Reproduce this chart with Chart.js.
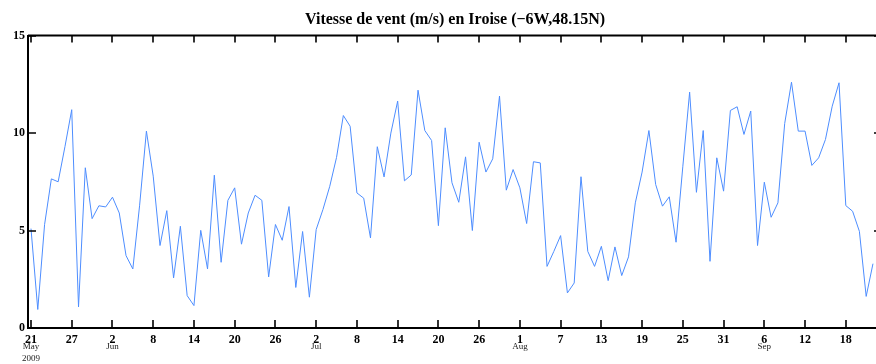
<!DOCTYPE html>
<html><head><meta charset="utf-8">
<script src="https://cdn.jsdelivr.net/npm/chart.js@4/dist/chart.umd.min.js"></script>
<style>
html,body{margin:0;padding:0;background:#fff;overflow:hidden;}
#wrap{width:876px;height:364px;overflow:hidden;position:relative;background:#fff;}
#c{display:block;width:884px;height:364px;}
</style></head><body>
<div id="wrap"><canvas id="c" width="884" height="364"></canvas></div>
<script>
// Daily wind speed (m/s), one value per day starting 21 May 2009
const windSpeed = [
  5.1, 0.95, 5.3, 7.65, 7.5, 9.3, 11.2, 1.08, 8.22, 5.61,
  6.27, 6.21, 6.71, 5.9, 3.71, 3.03, 6.3, 10.1, 7.79, 4.23,
  6.02, 2.57, 5.22, 1.66, 1.15, 5.01, 3.03, 7.84, 3.37, 6.55,
  7.19, 4.3, 5.9, 6.81, 6.55, 2.62, 5.31, 4.5, 6.23, 2.08,
  4.95, 1.58, 5.05, 6.08, 7.27, 8.75, 10.9, 10.35, 6.93, 6.66,
  4.62, 9.3, 7.75, 10.0, 11.64, 7.55, 7.85, 12.2, 10.13, 9.62,
  5.25, 10.27, 7.45, 6.45, 8.78, 5.0, 9.53, 8.0, 8.68, 11.9,
  7.07, 8.13, 7.19, 5.36, 8.53, 8.47, 3.16, 3.93, 4.74, 1.8,
  2.31, 7.76, 3.93, 3.16, 4.19, 2.43, 4.16, 2.69, 3.65, 6.42,
  8.0, 10.13, 7.36, 6.25, 6.73, 4.4, 8.3, 12.1, 6.96, 10.13,
  3.42, 8.73, 7.02, 11.16, 11.35, 9.93, 11.13, 4.23, 7.48, 5.68,
  6.42, 10.49, 12.61, 10.1, 10.1, 8.34, 8.73, 9.67, 11.38, 12.58,
  6.28, 5.99, 4.96, 1.62, 3.3
];
// x tick positions (days since 21 May 2009) and their labels
const xTickDays   = [0, 6, 12, 18, 24, 30, 36, 42, 48, 54, 60, 66, 72, 78, 84, 90, 96, 102, 108, 114, 120];
const xTickLabels = ['21','27','2','8','14','20','26','2','8','14','20','26','1','7','13','19','25','31','6','12','18'];
const monthTickDays = [0, 12, 42, 72, 108];
const monthNames    = ['May', 'Jun', 'Jul', 'Aug', 'Sep'];
const yearTickDays  = [0];
const yearLabels    = ['2009'];
const yTicks = [0, 5, 10, 15];
const titleText = 'Vitesse de vent (m/s) en Iroise (\u22126W,48.15N)';

const SERIF = '"Liberation Serif", "Times New Roman", serif';

const framePlugin = {
  id: 'frame',
  afterDraw(chart) {
    const {ctx, chartArea, scales} = chart;
    const {left, right, top, bottom} = chartArea;
    const x = scales.x, y = scales.y;
    ctx.save();
    ctx.strokeStyle = '#000';
    ctx.lineWidth = 2;
    ctx.beginPath();
    ctx.moveTo(left, top); ctx.lineTo(right, top); ctx.lineTo(right, bottom);
    ctx.stroke();
    ctx.lineWidth = 1.6;
    ctx.beginPath();
    xTickDays.forEach(d => {
      const px = Math.round(x.getPixelForValue(d));
      ctx.moveTo(px, bottom); ctx.lineTo(px, bottom - 8);
      ctx.moveTo(px, top); ctx.lineTo(px, top + 7);
    });
    yTicks.forEach(v => {
      const py = Math.round(y.getPixelForValue(v));
      ctx.moveTo(left, py); ctx.lineTo(left + 8, py);
      ctx.moveTo(right, py); ctx.lineTo(right - 8, py);
    });
    ctx.stroke();
    ctx.fillStyle = '#222';
    ctx.font = '9px ' + SERIF;
    ctx.textAlign = 'center';
    ctx.textBaseline = 'middle';
    monthTickDays.forEach((d, i) => ctx.fillText(monthNames[i], x.getPixelForValue(d), bottom + 18.5));
    yearTickDays.forEach((d, i) => ctx.fillText(yearLabels[i], x.getPixelForValue(d), bottom + 31));
    ctx.restore();
  }
};

new Chart(document.getElementById('c'), {
  type: 'line',
  data: {
    datasets: [{
      label: 'Vitesse de vent',
      data: windSpeed.map((v, i) => ({x: i, y: v})),
      borderColor: '#4d8dff',
      borderWidth: 1,
      pointRadius: 0,
      tension: 0,
      fill: false
    }]
  },
  options: {
    responsive: false,
    animation: false,
    devicePixelRatio: 1,
    layout: {padding: {left: 0, right: 2, top: 0, bottom: 0}},
    plugins: {
      legend: {display: false},
      tooltip: {enabled: false},
      title: {
        display: true,
        text: titleText,
        fullSize: false,
        color: '#000',
        font: {family: SERIF, size: 16, weight: 'bold', lineHeight: 1.2},
        padding: {top: 10, bottom: 6.4}
      }
    },
    scales: {
      x: {
        type: 'linear',
        min: -0.44,
        max: 125.33,
        afterBuildTicks: s => { s.ticks = xTickDays.map(v => ({value: v})); },
        afterFit: s => { s.height = 36; },
        grid: {display: true, drawOnChartArea: false, drawTicks: false},
        border: {display: true, color: '#000', width: 2},
        ticks: {
          autoSkip: false, maxRotation: 0, minRotation: 0, padding: 5,
          color: '#000',
          font: {family: SERIF, size: 12, weight: 'bold'},
          callback: v => { const i = xTickDays.indexOf(v); return i >= 0 ? xTickLabels[i] : ''; }
        }
      },
      y: {
        min: 0,
        max: 15,
        afterBuildTicks: s => { s.ticks = yTicks.map(v => ({value: v})); },
        afterFit: s => { s.width = 28; },
        grid: {display: true, drawOnChartArea: false, drawTicks: false},
        border: {display: true, color: '#000', width: 2},
        ticks: {
          padding: 3,
          color: '#000',
          font: {family: SERIF, size: 12, weight: 'bold'}
        }
      }
    }
  },
  plugins: [framePlugin]
});
</script>
</body></html>
